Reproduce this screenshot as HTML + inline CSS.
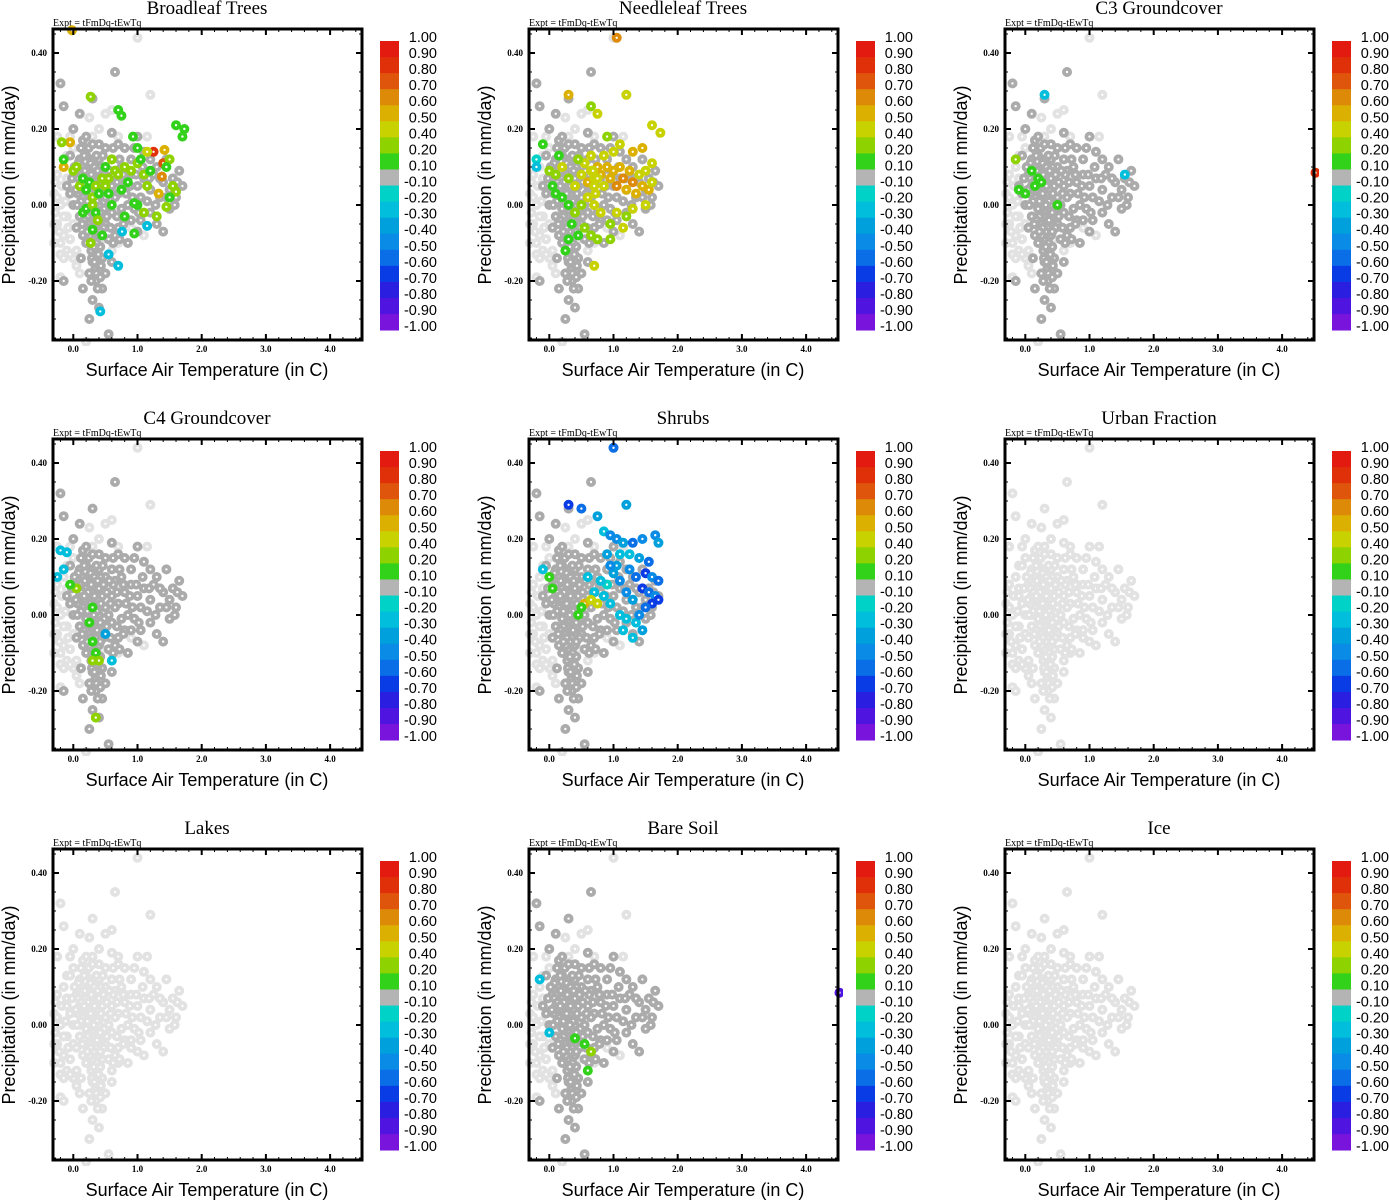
<!DOCTYPE html>
<html><head><meta charset="utf-8"><style>
html,body{margin:0;padding:0;background:#fff;}
svg{display:block;}
</style></head><body>
<svg id="fig" width="1389" height="1200" xmlns="http://www.w3.org/2000/svg"></svg>
<script>
const panelTitles = ["Broadleaf Trees","Needleleaf Trees","C3 Groundcover","C4 Groundcover","Shrubs","Urban Fraction","Lakes","Bare Soil","Ice"];
const xTicks = [0,1,2,3,4];
const xTickLabels = ["0.0","1.0","2.0","3.0","4.0"];
const yTicks = [0.4,0.2,0,-0.2];
const yTickLabels = ["0.40","0.20","0.00","-0.20"];
const cbEdges = [1,0.9,0.8,0.7,0.6,0.5,0.4,0.2,0.1,-0.1,-0.2,-0.3,-0.4,-0.5,-0.6,-0.7,-0.8,-0.9,-1];
const cbLabels = ["1.00","0.90","0.80","0.70","0.60","0.50","0.40","0.20","0.10","-0.10","-0.20","-0.30","-0.40","-0.50","-0.60","-0.70","-0.80","-0.90","-1.00"];
const cbColors = ["#e31a10","#e0300a","#e0550c","#dc8a08","#dcb000","#c8d200","#8ed200","#32d21a","#b4b4b4","#00d2c8","#00bedc","#00a0dc","#0a8ce6","#0a6ee6","#0a3ce6","#2a1ee0","#5014e0","#7814dc"];
const darkCloud = [[0.1,0.12],[0.2,0.13],[0.3,0.12],[0.15,0.1],[0.25,0.1],[0.35,0.09],[0.05,0.08],[0.2,0.07],[0.3,0.06],[0.4,0.07],[0.1,0.05],[0.25,0.04],[0.35,0.03],[0.45,0.05],[0.15,0.02],[0.3,0.01],[0.4,0.0],[0.5,0.02],[0.2,-0.01],[0.3,-0.02],[0.45,-0.03],[0.55,0.0],[0.25,-0.05],[0.35,-0.06],[0.5,-0.05],[0.6,-0.02],[0.3,-0.09],[0.4,-0.08],[0.28,-0.12],[0.35,-0.13],[0.42,-0.11],[0.3,-0.15],[0.38,-0.16],[0.45,-0.14],[0.6,0.05],[0.7,0.03],[0.8,0.06],[0.65,0.09],[0.75,0.1],[0.9,0.08],[1.0,0.05],[1.1,0.07],[0.85,0.0],[0.95,-0.01],[1.05,0.02],[1.2,0.04],[1.3,0.1],[1.4,0.06],[1.5,0.04],[1.6,0.02],[1.7,0.05],[1.5,-0.01],[1.35,0.02],[0.6,0.12],[0.5,0.1],[0.4,0.12],[0.7,-0.06],[0.8,-0.04],[1.0,-0.07],[1.3,-0.05],[0.1,-0.03],[0.0,0.0],[-0.05,0.03],[0.05,-0.06],[0.15,-0.08],[0.2,-0.1],[0.5,0.15],[0.8,0.15],[1.0,0.18],[1.1,0.14],[0.6,0.19],[0.9,0.12],[1.2,0.12],[0.25,-0.18],[0.35,-0.2],[0.15,-0.22],[0.45,-0.22],[0.3,-0.25],[0.4,-0.27],[0.25,-0.3],[0.55,-0.34],[-0.15,-0.2],[0.65,0.35],[-0.2,0.32],[-0.15,0.26],[0.0,0.2],[0.3,0.28],[0.1,0.24],[0.15,0.17],[-0.05,0.13],[1.2,-0.02],[0.95,0.15],[1.45,0.12],[1.65,0.09],[0.85,-0.1],[1.4,-0.07],[1.05,-0.04],[0.55,-0.09],[0.2,0.18],[0.4,0.16],[0.7,0.16],[-0.1,0.05],[0.12,-0.14],[0.5,-0.18],[1.55,0.07],[1.25,0.08],[1.15,0.01],[0.75,-0.01],[0.65,-0.08],[0.6,-0.15],[0.22,0.09],[0.32,0.08],[0.18,0.04],[0.28,-0.03],[0.38,0.04],[0.32,-0.07],[0.36,-0.1],[0.26,-0.08],[0.4,-0.15],[0.34,-0.17],[0.12,0.08],[0.08,0.11],[0.42,0.1],[0.48,-0.01],[0.22,-0.03],[0.26,0.01],[0.36,0.13],
[0.17,0.13],[0.27,0.11],[0.33,0.1],[0.08,0.07],[0.18,0.09],[0.28,0.08],[0.38,0.09],[0.13,0.06],[0.23,0.06],[0.33,0.05],[0.43,0.03],[0.07,0.03],[0.17,0.05],[0.27,0.03],[0.37,0.01],[0.47,0.08],[0.12,0.01],[0.22,0.01],[0.32,-0.0],[0.42,-0.02],[0.52,-0.03],[0.17,-0.04],[0.27,-0.06],[0.37,-0.04],[0.47,-0.06],[0.22,-0.07],[0.32,-0.11],[0.42,-0.07],[0.29,-0.14],[0.39,-0.13],[0.33,-0.15],[0.43,-0.16],[0.36,-0.18],[0.62,0.08],[0.68,0.06],[0.72,0.12],[0.58,0.03],[0.65,0.02],[0.78,0.08],[0.82,0.03],[0.88,0.05],[0.92,0.02],[0.98,0.08],[1.08,0.1],[1.18,0.07],[1.02,-0.02],[0.9,-0.04],[0.78,-0.05],[0.68,-0.03],[0.58,-0.06],[0.62,-0.1],[0.72,-0.09],[0.52,0.06],[0.56,0.09],[0.46,0.13],[0.02,0.1],[0.04,0.04],[-0.02,0.07],[0.06,0.0],[0.14,-0.05],[0.24,0.15],[0.3,0.16],[0.12,0.15],[0.62,0.15],[1.35,0.07],[1.28,0.0],[1.45,0.02],[1.58,0.0],[1.62,0.06],[0.38,-0.22],[0.28,-0.2],[0.42,-0.19]];
const lightCloud = [[-0.2,0.0],[-0.25,-0.05],[-0.15,-0.08],[-0.3,0.03],[-0.1,-0.12],[-0.2,-0.13],[0.0,-0.05],[-0.05,-0.09],[0.05,-0.12],[-0.15,0.1],[-0.25,0.08],[0.0,0.15],[1.0,0.44],[1.2,0.29],[0.6,0.25],[0.5,0.24],[0.25,0.23],[0.7,0.18],[1.15,0.18],[0.9,-0.06],[1.1,-0.08],[0.7,-0.1],[0.1,-0.18],[-0.2,-0.19],[0.2,-0.36],[-0.1,0.07],[0.4,0.2],[0.8,0.08],[0.3,0.18],[-0.25,0.18],[0.6,-0.12],[-0.3,-0.1],[0.1,0.0],[0.2,0.05],[-0.05,0.18],[0.45,-0.09],[-0.1,-0.03],[-0.2,-0.1],[-0.28,-0.02],[0.0,-0.14],[-0.15,-0.03],[-0.22,-0.07],[-0.08,-0.06],[-0.25,0.02],[-0.12,0.01],[-0.3,-0.05],[-0.18,0.05],[-0.05,-0.13],[-0.15,-0.14],[0.05,-0.16],[-0.28,0.06],[-0.1,0.13]];
const broadleafPts = [[1.25,0.14,0.8],[1.4,0.11,0.7],[1.38,0.075,0.6],[1.33,0.03,0.55],[1.42,0.145,0.5],[1.15,0.14,0.45],[-0.15,0.1,0.55],[-0.05,0.165,0.55],[-0.18,0.165,0.3],[-0.15,0.12,0.15],[0.27,0.285,0.3],[0.7,0.25,0.15],[0.75,0.235,0.15],[0.93,0.18,0.15],[1.0,0.15,0.15],[1.6,0.21,0.15],[1.73,0.2,0.15],[1.7,0.18,0.15],[1.5,0.12,0.3],[1.45,0.1,0.15],[1.55,0.05,0.2],[1.6,0.035,0.25],[1.5,0.02,0.15],[1.45,-0.005,0.3],[1.3,-0.03,0.25],[1.1,-0.02,0.25],[1.0,0.0,0.15],[0.95,0.005,0.15],[0.8,-0.03,0.15],[0.95,-0.075,0.15],[0.45,-0.08,0.15],[0.3,-0.065,0.15],[0.27,-0.1,0.3],[0.76,-0.07,-0.3],[0.7,-0.16,-0.3],[1.15,-0.055,-0.3],[0.42,-0.28,-0.3],[0.55,-0.13,-0.3],[0.0,0.09,0.3],[0.05,0.1,0.3],[0.1,0.05,0.3],[0.15,0.07,0.15],[0.2,0.04,0.15],[0.25,0.06,0.15],[0.3,0.02,0.25],[0.35,0.05,0.3],[0.4,0.03,0.15],[0.45,0.07,0.3],[0.5,0.1,0.15],[0.55,0.07,0.3],[0.6,0.12,0.3],[0.65,0.09,0.25],[0.7,0.08,0.3],[0.75,0.04,0.15],[0.8,0.1,0.3],[0.85,0.06,0.15],[0.9,0.09,0.3],[1.0,0.11,0.25],[1.05,0.12,0.15],[1.1,0.08,0.3],[1.15,0.05,0.3],[1.2,0.09,0.15],[0.15,-0.02,0.15],[0.2,-0.01,0.15],[0.3,0.0,0.3],[0.35,-0.02,0.15],[0.5,0.05,0.3],[0.55,0.03,0.15],[0.6,0.0,0.15],[0.38,-0.04,0.25],[-0.02,0.46,0.55]];
const needleleafPts = [[1.05,0.44,0.65],[0.3,0.29,0.55],[1.2,0.29,0.45],[0.65,0.26,0.3],[0.75,0.24,0.45],[1.6,0.21,0.45],[1.73,0.19,0.45],[1.45,0.15,0.55],[1.3,0.14,0.5],[1.1,0.16,0.45],[0.9,0.18,0.3],[-0.2,0.12,-0.2],[-0.2,0.1,-0.3],[-0.1,0.16,0.15],[0.0,0.09,0.3],[0.1,0.08,0.3],[0.2,0.1,0.45],[0.3,0.07,0.3],[0.4,0.05,0.45],[0.5,0.08,0.45],[0.55,0.11,0.45],[0.6,0.06,0.55],[0.65,0.09,0.45],[0.7,0.07,0.45],[0.75,0.1,0.55],[0.8,0.08,0.55],[0.85,0.05,0.45],[0.9,0.1,0.55],[0.95,0.07,0.55],[1.0,0.09,0.55],[1.05,0.05,0.65],[1.1,0.1,0.55],[1.15,0.07,0.65],[1.2,0.04,0.55],[1.25,0.09,0.55],[1.3,0.06,0.65],[1.35,0.03,0.55],[1.4,0.08,0.45],[1.45,0.05,0.55],[1.5,0.09,0.45],[1.55,0.04,0.55],[1.6,0.06,0.45],[1.6,0.11,0.45],[1.5,0.0,0.45],[1.3,-0.01,0.45],[1.2,-0.03,0.3],[1.05,-0.02,0.45],[0.95,-0.05,0.3],[0.8,-0.02,0.45],[0.7,0.0,0.45],[0.6,0.02,0.45],[0.5,0.0,0.3],[0.4,-0.02,0.3],[0.3,0.0,0.15],[0.2,0.02,0.15],[0.1,0.03,0.15],[0.35,-0.05,0.15],[0.45,-0.08,0.15],[0.55,-0.06,0.3],[0.65,-0.08,0.3],[0.75,-0.09,0.3],[0.95,-0.09,0.3],[1.15,-0.06,0.45],[0.7,-0.16,0.45],[0.3,-0.09,0.15],[0.25,-0.12,0.15],[0.45,0.12,0.3],[0.65,0.13,0.45],[0.85,0.13,0.45],[1.0,0.14,0.45],[0.15,0.13,0.15],[0.05,0.05,0.15],[0.7,0.05,0.45],[0.75,0.07,0.45],[0.68,0.09,0.45],[0.72,0.03,0.45]];
const c3Pts = [[-0.15,0.12,0.3],[0.3,0.29,-0.25],[-0.1,0.04,0.15],[0.2,0.07,0.15],[0.15,0.05,0.15],[0.5,0.0,0.15],[0.0,0.03,0.15],[0.25,0.06,0.15],[0.1,0.09,0.15],[1.55,0.08,-0.3],[4.52,0.085,0.85]];
const c4Pts = [[-0.2,0.17,-0.3],[-0.1,0.165,-0.3],[-0.25,0.1,-0.3],[-0.15,0.12,-0.25],[0.05,0.07,0.3],[0.3,0.02,0.15],[0.25,-0.02,0.15],[0.3,-0.07,0.15],[0.35,-0.1,0.15],[0.4,-0.12,0.25],[0.6,-0.12,-0.3],[0.35,-0.27,0.3],[0.5,-0.05,-0.4],[-0.05,0.08,0.15],[0.3,-0.12,0.3]];
const shrubPts = [[1.0,0.44,-0.6],[0.3,0.29,-0.7],[0.5,0.28,-0.6],[1.2,0.29,-0.4],[0.75,0.26,-0.35],[0.85,0.22,-0.3],[0.95,0.21,-0.5],[1.05,0.2,-0.5],[1.15,0.19,-0.4],[1.3,0.19,-0.6],[1.45,0.2,-0.45],[1.65,0.21,-0.5],[1.7,0.19,-0.4],[0.9,0.16,-0.4],[1.1,0.16,-0.3],[1.25,0.16,-0.3],[1.4,0.15,-0.4],[1.55,0.14,-0.6],[1.5,0.11,-0.7],[1.6,0.1,-0.5],[1.7,0.09,-0.6],[1.45,0.07,-0.7],[1.55,0.06,-0.6],[1.65,0.05,-0.5],[1.7,0.04,-0.7],[1.6,0.03,-0.7],[1.5,0.02,-0.6],[1.3,0.04,-0.4],[1.2,0.06,-0.5],[1.1,0.09,-0.45],[1.0,0.11,-0.35],[1.35,0.1,-0.55],[1.25,0.12,-0.45],[0.9,0.08,-0.2],[0.85,0.05,-0.3],[0.95,0.03,-0.25],[1.1,0.0,-0.3],[1.2,-0.01,-0.25],[1.35,-0.02,-0.3],[1.45,-0.04,-0.35],[1.3,-0.06,-0.3],[1.15,-0.04,-0.25],[1.4,0.0,-0.5],[0.8,0.09,-0.3],[0.7,0.06,-0.25],[0.6,0.1,-0.3],[0.55,0.03,0.55],[0.5,0.02,0.15],[0.45,0.0,0.15],[0.65,0.04,0.45],[0.75,0.03,0.45],[0.0,0.1,0.15],[0.05,0.07,0.15],[-0.1,0.12,-0.25],[1.05,0.13,-0.35],[0.95,0.13,-0.45]];
const bareSoilPts = [[0.0,-0.02,-0.25],[-0.15,0.12,-0.3],[0.4,-0.035,0.15],[0.65,-0.07,0.25],[0.6,-0.12,0.15],[0.55,-0.05,0.15],[4.52,0.085,-0.9]];
const panelPts = [broadleafPts,needleleafPts,c3Pts,c4Pts,shrubPts,[],[],bareSoilPts,[]];
const panelLight = [false,false,false,false,false,true,true,false,true];

const NS="http://www.w3.org/2000/svg";
const svg=document.getElementById('fig');
function mk(tag,attrs,parent){const e=document.createElementNS(NS,tag);for(const k in attrs)e.setAttribute(k,attrs[k]);(parent||svg).appendChild(e);return e;}
const L=53,R=362,T=29,B=340;
const xScale=v=>73.3+v*64.2;
const yScale=v=>205-v*380;
function colorFor(v){for(let i=0;i<cbColors.length;i++){if(v<=cbEdges[i]&&v>=cbEdges[i+1])return cbColors[i];}return cbColors[cbColors.length-1];}

panelTitles.forEach((title,p)=>{
  const dx=(p%3)*476, dy=Math.floor(p/3)*410;
  const g=mk('g',{transform:`translate(${dx},${dy})`});
  
  
  const t=mk('text',{x:207,y:14,'text-anchor':'middle','font-family':'Liberation Serif, serif','font-size':19},g);
  t.textContent=title;
  
  
  const ex=mk('text',{x:53,y:26,'font-family':'Liberation Serif, serif','font-size':10},g);
  ex.textContent='Expt = tFmDq-tEwTq';
  
  
  const plot=mk('g',{},g);
  
  
  const clip='c'+p;
  const cp=mk('clipPath',{id:clip},g); mk('rect',{x:L-5,y:T-6,width:R-L+10,height:B-T+12},cp);
  plot.setAttribute('clip-path',`url(#${clip})`);
  const dot=(x,y,col)=>{const c=mk('circle',{cx:xScale(x),cy:yScale(y),r:3.1,fill:'#fff',stroke:col,'stroke-width':3.8},plot);
    
    };
  lightCloud.forEach(d=>dot(d[0],d[1],'#e2e2e2'));
  darkCloud.forEach(d=>dot(d[0],d[1],panelLight[p]?'#e2e2e2':'#ababab'));
  panelPts[p].forEach(d=>dot(d[0],d[1],colorFor(d[2])));
  const fr=mk('rect',{x:L,y:T,width:R-L,height:B-T,fill:'none',stroke:'#000','stroke-width':3},g);
  
  
  for(let v=-0.2;v<=4.5;v+=0.2){const X=xScale(v);if(X<L+2||X>R-2)continue;const maj=Math.abs(v-Math.round(v))<0.01;const len=maj?6:3;
    mk('line',{x1:X,y1:B,x2:X,y2:B-len,stroke:'#000','stroke-width':maj?2:1},g);mk('line',{x1:X,y1:T,x2:X,y2:T+len,stroke:'#000','stroke-width':maj?2:1},g);}
  for(let v=-0.35;v<=0.46;v+=0.05){const Y=yScale(v);if(Y<T+2||Y>B-2)continue;const maj=Math.abs(v*10-Math.round(v*10))<0.01&&Math.round(v*10)%2===0;const len=maj?6:3;
    mk('line',{x1:L,y1:Y,x2:L+len,y2:Y,stroke:'#000','stroke-width':maj?2:1},g);mk('line',{x1:R,y1:Y,x2:R-len,y2:Y,stroke:'#000','stroke-width':maj?2:1},g);}
  xTicks.forEach((v,i)=>{const tl=mk('text',{x:xScale(v),y:352,'text-anchor':'middle','font-family':'Liberation Serif, serif','font-size':9,'font-weight':'bold'},g);tl.textContent=xTickLabels[i];
    
    });
  yTicks.forEach((v,i)=>{const tl=mk('text',{x:47,y:yScale(v)+3,'text-anchor':'end','font-family':'Liberation Serif, serif','font-size':9,'font-weight':'bold'},g);tl.textContent=yTickLabels[i];
    
    });
  const xt=mk('text',{x:207,y:376,'text-anchor':'middle','font-family':'Liberation Sans, sans-serif','font-size':18},g);xt.textContent='Surface Air Temperature (in C)';
  
  
  const yt=mk('text',{x:0,y:0,'text-anchor':'middle','font-family':'Liberation Sans, sans-serif','font-size':18,transform:'translate(15,185) rotate(-90)'},g);yt.textContent='Precipitation (in mm/day)';
  
  
  const cb=mk('g',{},g);
  
  
  cbColors.forEach((c,i)=>{const r=mk('rect',{x:380,y:41+i*16.06,width:19,height:16.5,fill:c},cb);
    
    });
  cbLabels.forEach((s,i)=>{const tl=mk('text',{x:437,y:41+i*16.06+1,'text-anchor':'end','font-family':'Liberation Sans, sans-serif','font-size':14.5},cb);tl.textContent=s;
    
    });
});
</script>
</body></html>
